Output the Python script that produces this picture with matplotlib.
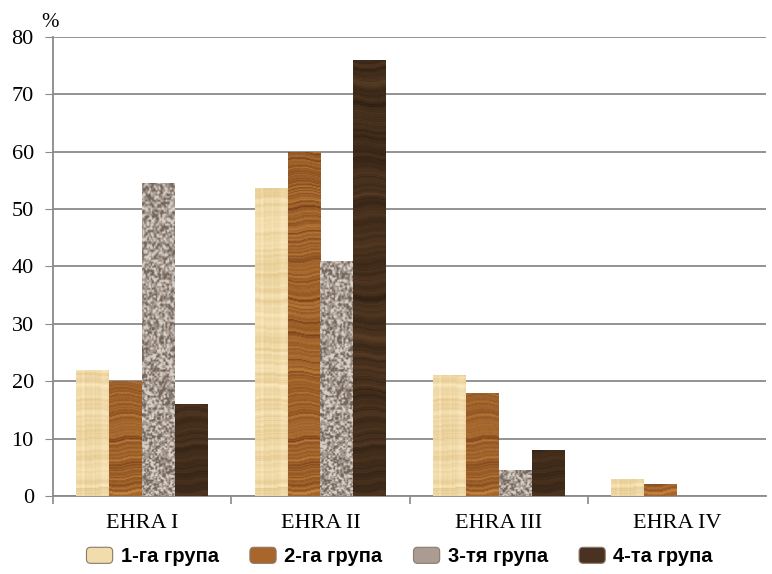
import numpy as np
import matplotlib.pyplot as plt
from matplotlib.patches import FancyBboxPatch
from matplotlib.legend_handler import HandlerPatch

categories = ['EHRA I', 'EHRA II', 'EHRA III', 'EHRA IV']
groups = ['1-га група', '2-га група', '3-тя група', '4-та група']
group1 = [22, 53.7, 21, 3]
group2 = [20, 60, 18, 2]
group3 = [54.5, 41, 4.5, 0]
group4 = [16, 76, 8, 0]
y_ticks = [0, 10, 20, 30, 40, 50, 60, 70, 80]

series = [group1, group2, group3, group4]

# --- procedural fills: wood grain and granite ---
rng = np.random.default_rng(3)
ROWS, COLS = 460, 40


def smooth1d(v, k):
    kern = np.ones(k) / k
    return np.convolve(np.concatenate([v[-k:], v, v[:k]]), kern, mode='same')[k:-k]


def wood(dark, light, k, wobble, gamma=1.0, fibre=0.0):
    line = smooth1d(rng.normal(size=ROWS), k)
    line = (line - line.min()) / (line.max() - line.min())
    yy, xx = np.mgrid[0:ROWS, 0:COLS]
    idx = (yy + wobble * np.sin(xx / 9.0 + yy / 35.0)).astype(int) % ROWS
    s = line[idx] ** gamma
    if fibre:
        cols = smooth1d(rng.normal(size=COLS), 2)
        s = s + fibre * cols[None, :]
    s = s + 0.04 * rng.normal(size=s.shape)
    s = np.clip(s, 0, 1)[..., None]
    dark = np.array(dark) / 255
    light = np.array(light) / 255
    return dark + (light - dark) * s


def granite(mid, light, dark, cell=2):
    n = rng.normal(size=(ROWS // cell + 2, COLS // cell + 2))
    n = np.kron(n, np.ones((cell, cell)))[:ROWS, :COLS]
    n = (n + np.roll(n, 1, 0) + np.roll(n, 1, 1) + np.roll(np.roll(n, 1, 0), 1, 1)) / 2
    n = n + 0.4 * rng.normal(size=n.shape)
    img = np.ones((ROWS, COLS, 3)) * np.array(mid) / 255
    hi = np.clip((n - 0.5) / 1.0, 0, 1)[..., None]
    lo = np.clip((-n - 0.5) / 1.0, 0, 1)[..., None]
    img = img + (np.array(light) / 255 - img) * hi
    img = img + (np.array(dark) / 255 - img) * lo
    return np.clip(img, 0, 1)


textures = [
    wood((228, 200, 142), (250, 232, 190), 3, 1, 0.7, fibre=0.15),
    wood((115, 60, 22), (198, 132, 62), 2, 2, 0.8),
    granite((165, 152, 142), (215, 208, 200), (115, 102, 92)),
    wood((48, 32, 19), (90, 62, 38), 4, 2),
]
swatch_colors = ['#f1dcab', '#a8662c', '#aa9c92', '#4a3222']

plt.rcParams['font.family'] = ['Liberation Serif', 'DejaVu Serif']

fig = plt.figure(figsize=(7.72, 5.74), dpi=100)
ax = fig.add_axes([0.069, 0.136, 0.923, 0.8])

x = np.arange(len(categories))
width = 0.74 / len(series)

for i, (vals, tex, col) in enumerate(zip(series, textures, swatch_colors)):
    pos = x + (i - 1.5) * width
    bars = ax.bar(pos, vals, width, color=col, linewidth=0, zorder=3)
    for bar in bars:
        if bar.get_height() <= 0:
            continue
        x0 = bar.get_x()
        im = ax.imshow(tex, extent=(x0, x0 + width, 0, 80), origin='lower',
                       aspect='auto', interpolation='bilinear', zorder=4)
        im.set_clip_path(bar)

ax.set_xlim(-0.5, len(categories) - 0.5)
ax.set_ylim(0, 80)
ax.set_yticks(y_ticks)
ax.tick_params(axis='y', labelsize=16, length=6, color='#8a8a8a', pad=8)
ax.yaxis.grid(True, color='#8a8a8a', linewidth=1.3, zorder=0)
ax.set_axisbelow(True)

ax.set_xticks(x)
ax.set_xticklabels(categories)
ax.set_xticks(x - 0.5, minor=True)
ax.tick_params(axis='x', which='major', length=0, labelsize=16, pad=13)
ax.tick_params(axis='x', which='minor', length=6, color='#8a8a8a', width=1.2)

for side in ['top', 'right']:
    ax.spines[side].set_visible(False)
for side in ['left', 'bottom']:
    ax.spines[side].set_color('#8a8a8a')
    ax.spines[side].set_linewidth(1.3)

fig.text(0.054, 0.953, '%', fontsize=15, va='baseline')


class RoundSwatch(HandlerPatch):
    def create_artists(self, legend, orig_handle, xdescent, ydescent,
                       width, height, fontsize, trans):
        p = FancyBboxPatch((-xdescent, -ydescent), width, height,
                           boxstyle='round,pad=0,rounding_size=3',
                           facecolor=orig_handle.get_facecolor(),
                           edgecolor='#8a7a6a', linewidth=0.8, transform=trans)
        return [p]


handles = [plt.Rectangle((0, 0), 1, 1, facecolor=c) for c in swatch_colors]
ax.legend(handles, groups, loc='center left', bbox_to_anchor=(0.112, 0.03),
          bbox_transform=fig.transFigure, ncol=4, frameon=False,
          prop={'family': 'Liberation Sans', 'weight': 'bold', 'size': 14.5},
          handlelength=1.3, handleheight=0.85, handletextpad=0.4,
          columnspacing=1.55, borderaxespad=0, borderpad=0,
          handler_map={plt.Rectangle: RoundSwatch()})

fig.savefig('out.png', dpi=100)
